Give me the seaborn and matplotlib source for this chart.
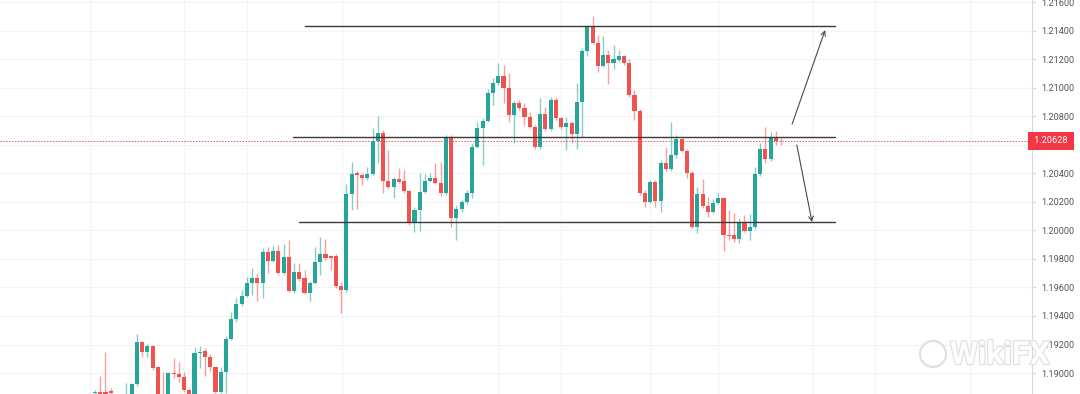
import numpy as np
import pandas as pd
import matplotlib
matplotlib.use('Agg')
import matplotlib.pyplot as plt
import matplotlib.patheffects as pe
from matplotlib.patches import Ellipse
import seaborn as sns

# EURUSD-style candles (left -> right)
opens = [1.18860, 1.18867, 1.18867, 1.18874, 1.18825, 1.18797, 1.18811, 1.18839, 1.18923, 1.19215,
         1.19149, 1.19189, 1.19040, 1.18839, 1.18832, 1.19002, 1.18993, 1.18970, 1.18881, 1.18853,
         1.19138, 1.19154, 1.19110, 1.19040, 1.18869, 1.19005, 1.19241, 1.19377, 1.19484, 1.19542,
         1.19629, 1.19664, 1.19633, 1.19846, 1.19788, 1.19858, 1.19699, 1.19811, 1.19577, 1.19710,
         1.19664, 1.19563, 1.19633, 1.19781, 1.19835, 1.19821, 1.19821, 1.19610, 1.19582, 1.20253,
         1.20405, 1.20386, 1.20365, 1.20393, 1.20629, 1.20685, 1.20349, 1.20302, 1.20361, 1.20349,
         1.20276, 1.20054, 1.20143, 1.20271, 1.20349, 1.20365, 1.20335, 1.20260, 1.20650, 1.20085,
         1.20148, 1.20201, 1.20264, 1.20587, 1.20716, 1.20769, 1.20966, 1.21032, 1.21083, 1.20997,
         1.20809, 1.20891, 1.20856, 1.20793, 1.20727, 1.20583, 1.20816, 1.20709, 1.20915, 1.20786,
         1.20727, 1.20751, 1.20676, 1.20903, 1.21260, 1.21424, 1.21316, 1.21153, 1.21230, 1.21176,
         1.21195, 1.21223, 1.21172, 1.20950, 1.20839, 1.20264, 1.20201, 1.20342, 1.20208, 1.20471,
         1.20429, 1.20529, 1.20639, 1.20559, 1.20405, 1.20026, 1.20255, 1.20171, 1.20131, 1.20194,
         1.20225, 1.19968, 1.19968, 1.19938, 1.20050, 1.19998, 1.20022, 1.20396, 1.20569, 1.20499,
         1.20653, 1.20629]
closes = [1.18867, 1.18846, 1.18853, 1.18860, 1.18811, 1.18825, 1.18846, 1.18923, 1.19215, 1.19145,
          1.19189, 1.19033, 1.18846, 1.18811, 1.19000, 1.18993, 1.18970, 1.18881, 1.18839, 1.19138,
          1.19149, 1.19110, 1.19040, 1.18869, 1.19005, 1.19241, 1.19377, 1.19484, 1.19542, 1.19629,
          1.19664, 1.19633, 1.19846, 1.19788, 1.19858, 1.19699, 1.19811, 1.19577, 1.19710, 1.19657,
          1.19563, 1.19633, 1.19781, 1.19835, 1.19804, 1.19804, 1.19610, 1.19582, 1.20253, 1.20396,
          1.20386, 1.20365, 1.20393, 1.20629, 1.20685, 1.20349, 1.20302, 1.20361, 1.20342, 1.20276,
          1.20054, 1.20143, 1.20271, 1.20349, 1.20365, 1.20335, 1.20260, 1.20650, 1.20085, 1.20148,
          1.20201, 1.20264, 1.20587, 1.20716, 1.20769, 1.20966, 1.21032, 1.21083, 1.20997, 1.20809,
          1.20891, 1.20856, 1.20793, 1.20727, 1.20583, 1.20816, 1.20709, 1.20915, 1.20786, 1.20723,
          1.20751, 1.20676, 1.20903, 1.21260, 1.21424, 1.21316, 1.21153, 1.21230, 1.21176, 1.21200,
          1.21223, 1.21172, 1.20950, 1.20839, 1.20264, 1.20201, 1.20342, 1.20208, 1.20471, 1.20429,
          1.20529, 1.20639, 1.20559, 1.20405, 1.20026, 1.20255, 1.20171, 1.20131, 1.20194, 1.20225,
          1.19968, 1.19961, 1.19938, 1.20050, 1.19998, 1.20022, 1.20396, 1.20569, 1.20499, 1.20653,
          1.20629, 1.20628]
highs = [1.18881, 1.18979, 1.19147, 1.18895, 1.18846, 1.18839, 1.18930, 1.18932, 1.19274, 1.19227,
         1.19203, 1.19196, 1.19049, 1.19007, 1.19007, 1.19105, 1.19079, 1.19007, 1.18895, 1.19180,
         1.19189, 1.19173, 1.19133, 1.19044, 1.19044, 1.19259, 1.19430, 1.19524, 1.19582, 1.19675,
         1.19734, 1.19699, 1.19875, 1.19886, 1.19893, 1.19898, 1.19905, 1.19933, 1.19769, 1.19769,
         1.19722, 1.19645, 1.19886, 1.19952, 1.19938, 1.19828, 1.19835, 1.19640, 1.20325, 1.20482,
         1.20417, 1.20403, 1.20445, 1.20716, 1.20802, 1.20704, 1.20564, 1.20377, 1.20436, 1.20424,
         1.20283, 1.20166, 1.20400, 1.20396, 1.20403, 1.20471, 1.20482, 1.20669, 1.20669, 1.20178,
         1.20213, 1.20283, 1.20613, 1.20762, 1.20786, 1.20990, 1.21067, 1.21172, 1.21160, 1.21102,
         1.20908, 1.20915, 1.20891, 1.20833, 1.20739, 1.20926, 1.20868, 1.20938, 1.20938, 1.20797,
         1.20797, 1.20767, 1.21032, 1.21279, 1.21441, 1.21504, 1.21370, 1.21363, 1.21265, 1.21300,
         1.21265, 1.21230, 1.21200, 1.20985, 1.20851, 1.20283, 1.20354, 1.20354, 1.20494, 1.20587,
         1.20762, 1.20669, 1.20648, 1.20571, 1.20417, 1.20307, 1.20358, 1.20236, 1.20218, 1.20264,
         1.20234, 1.20143, 1.20122, 1.20085, 1.20108, 1.20112, 1.20447, 1.20611, 1.20723, 1.20692,
         1.20699, 1.20646]
lows = [1.18839, 1.18825, 1.18832, 1.18839, 1.18790, 1.18776, 1.18797, 1.18825, 1.18909, 1.19114,
        1.19114, 1.19021, 1.18825, 1.18790, 1.18818, 1.18965, 1.18937, 1.18867, 1.18825, 1.18839,
        1.19033, 1.18981, 1.19014, 1.18860, 1.18860, 1.18860, 1.19231, 1.19358, 1.19470, 1.19533,
        1.19547, 1.19507, 1.19524, 1.19699, 1.19778, 1.19687, 1.19687, 1.19568, 1.19559, 1.19645,
        1.19554, 1.19507, 1.19624, 1.19687, 1.19792, 1.19722, 1.19596, 1.19423, 1.19568, 1.20143,
        1.20148, 1.20318, 1.20354, 1.20389, 1.20471, 1.20260, 1.20290, 1.20225, 1.20332, 1.20262,
        1.20038, 1.19991, 1.19998, 1.20262, 1.20339, 1.20325, 1.20241, 1.20248, 1.20026, 1.19933,
        1.20129, 1.20185, 1.20225, 1.20578, 1.20459, 1.20760, 1.20879, 1.21020, 1.20891, 1.20762,
        1.20611, 1.20844, 1.20739, 1.20718, 1.20571, 1.20569, 1.20697, 1.20697, 1.20774, 1.20711,
        1.20564, 1.20615, 1.20569, 1.20653, 1.21223, 1.21307, 1.21113, 1.21146, 1.21027, 1.21130,
        1.21181, 1.21160, 1.20936, 1.20774, 1.20248, 1.20166, 1.20192, 1.20166, 1.20131, 1.20417,
        1.20417, 1.20506, 1.20550, 1.20365, 1.20017, 1.19984, 1.20157, 1.20092, 1.20122, 1.20185,
        1.19858, 1.19933, 1.19919, 1.19914, 1.19989, 1.19933, 1.20010, 1.20382, 1.20471, 1.20487,
        1.20599, 1.20599]

last_price = 1.20628
y_ticks = [1.19000, 1.19200, 1.19400, 1.19600, 1.19800, 1.20000, 1.20200, 1.20400,
           1.20600, 1.20800, 1.21000, 1.21200, 1.21400, 1.21600]

# drawn levels (price, start bar, end bar) and the two scenario arrows
levels = [(1.21433, 40.1, 141.3), (1.20655, 37.8, 141.3), (1.20059, 39.0, 141.3)]
arrow_up = ((133.1, 1.20746), (139.4, 1.21405))
arrow_down = ((134.0, 1.20599), (136.9, 1.20059))
date_grid = [-0.95, 17.0, 29.0, 47.2, 77.0, 89.0, 106.0, 119.0, 137.0, 149.0, 167.0]

df = pd.DataFrame({'open': opens, 'high': highs, 'low': lows, 'close': closes})
df['bar'] = np.arange(len(df))
df['up'] = df['close'] >= df['open']

sns.set_style('white')
plt.rcParams['font.family'] = ['Roboto', 'DejaVu Sans']

GREEN = '#26a69a'
RED = '#ef5350'

fig = plt.figure(figsize=(10.8, 3.94), dpi=100)
ax = fig.add_axes([0, 0, 1032 / 1080, 1])

cols = np.where(df['up'], GREEN, RED)
ax.vlines(df['bar'], df['low'], df['high'], colors=cols, linewidth=1, alpha=0.55, zorder=2)
body = (df['close'] - df['open']).abs().clip(lower=0.000012)
ax.bar(df['bar'], body, bottom=df[['open', 'close']].min(axis=1), width=0.78,
       color=cols, linewidth=0, zorder=3)

for price, x0, x1 in levels:
    ax.plot([x0, x1], [price, price], color='#3a3a3a', linewidth=1.0, zorder=4)

for (x0, y0), (x1, y1) in [arrow_up, arrow_down]:
    ax.annotate('', xy=(x1, y1), xytext=(x0, y0),
                arrowprops=dict(arrowstyle='->', color='#4a4a4a', lw=0.8,
                                shrinkA=0, shrinkB=0, mutation_scale=8), zorder=4)

ax.axhline(last_price, color='#f7525f', linewidth=0.7, linestyle=(0, (1.5, 1.5)), zorder=1)

ax.set_xlim(-18.14, 178.9)
ax.set_ylim(1.18853, 1.21616)
ax.set_xticks(date_grid)
ax.set_yticks(y_ticks)
ax.set_yticklabels([f'{v:.5f}' for v in y_ticks])
ax.yaxis.tick_right()
ax.tick_params(axis='x', length=0, labelbottom=False)
ax.tick_params(axis='y', length=3, color='#d6d8de', labelsize=6.6, labelcolor='#555555', pad=4)
ax.grid(True, color='#f3f4f7', linewidth=0.8)
for side in ['top', 'left', 'bottom']:
    ax.spines[side].set_visible(False)
ax.spines['right'].set_color('#d6d8de')
ax.spines['right'].set_linewidth(0.8)

ax.text(1.0, last_price, ' 1.20628 ', transform=ax.get_yaxis_transform(),
        ha='left', va='center', fontsize=6.6, color='white', zorder=6, clip_on=False,
        bbox=dict(boxstyle='square,pad=0.45', facecolor='#f23645', edgecolor='none'))

# WikiFX watermark, bottom right
logo = Ellipse((933 / 1080, 1 - 354 / 394), 26 / 1080, 26 / 394, transform=fig.transFigure,
               facecolor='white', edgecolor='#dcdde0', linewidth=1.6, alpha=0.9, zorder=7)
fig.patches.append(logo)
wm = fig.text(950 / 1080, 1 - 355 / 394, 'WikiFX', fontsize=23, fontweight='bold', color='white',
              ha='left', va='center', alpha=0.9)
wm.set_path_effects([pe.withStroke(linewidth=1.6, foreground='#dcdde0')])

fig.savefig('out.png', dpi=100)
